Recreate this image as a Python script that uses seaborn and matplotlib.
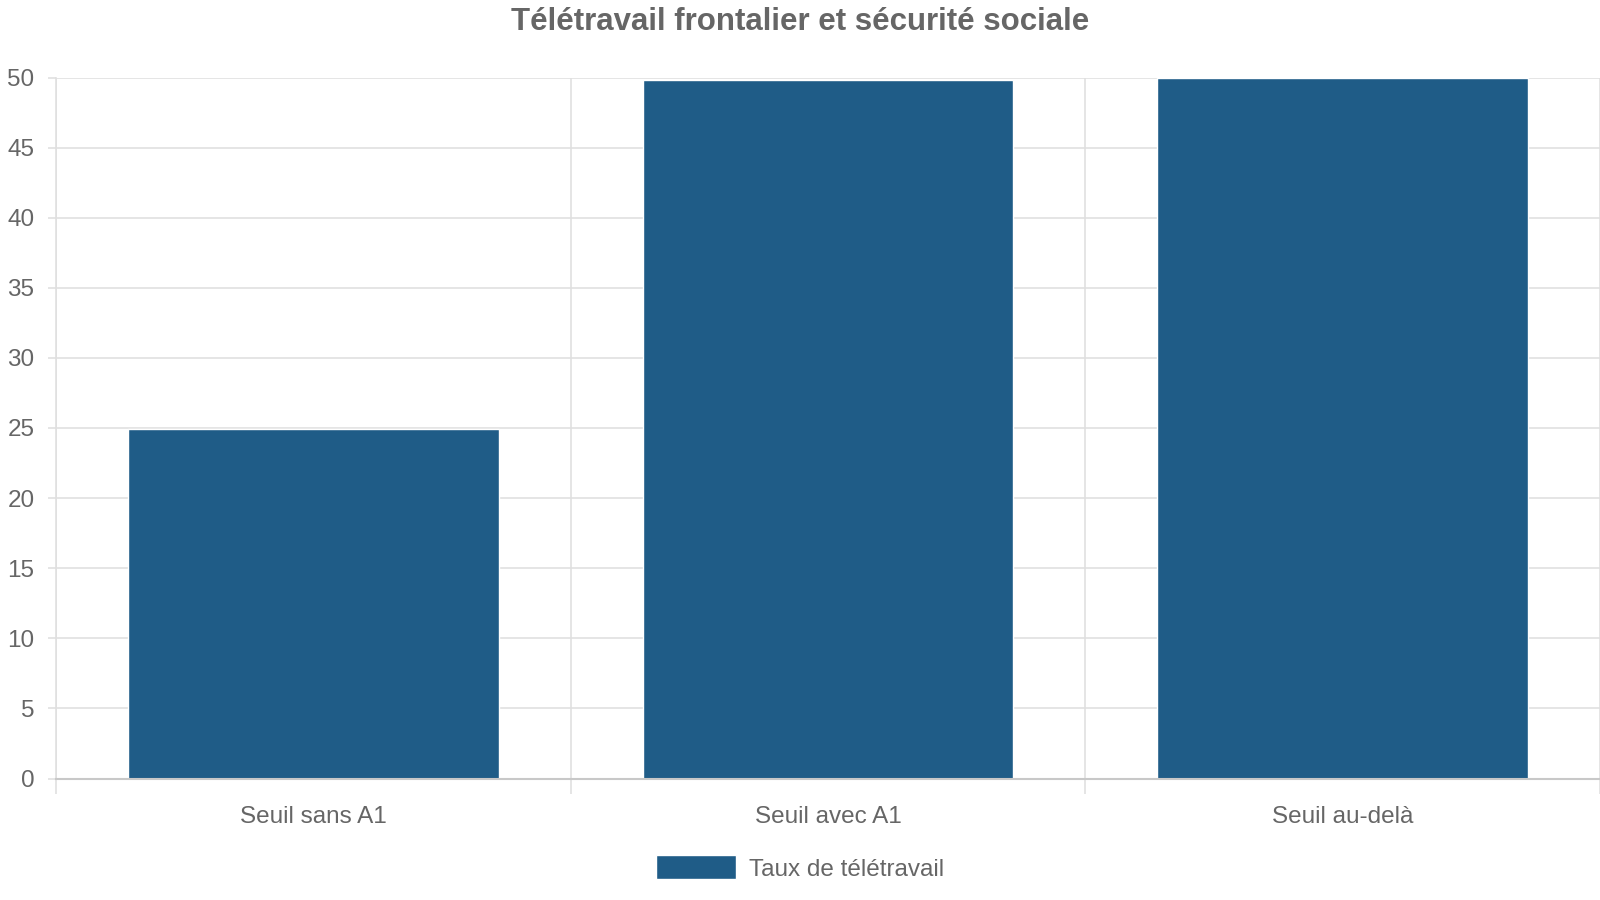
import matplotlib
matplotlib.use("Agg")
import matplotlib.pyplot as plt
import pandas as pd
import seaborn as sns

# data
categories = ["Seuil sans A1", "Seuil avec A1", "Seuil au-delà"]
values = [24.9, 49.8, 50.0]
series_name = "Taux de télétravail"
y_ticks = [0, 5, 10, 15, 20, 25, 30, 35, 40, 45, 50]

df = pd.DataFrame({"seuil": categories, "taux": values})

sns.set_theme(style="white")
plt.rcParams["font.family"] = ["Liberation Sans", "DejaVu Sans"]

text_col = "#666666"
grid_col = "#e0e0e0"
bar_col = "#1f5c87"

fig = plt.figure(figsize=(16, 9), dpi=100)
W, H = 1600, 900
left, right, top, bottom = 56, 1600, 77.5, 778.5
ax = fig.add_axes([left / W, 1 - bottom / H, (right - left) / W, (bottom - top) / H])

sns.barplot(data=df, x="seuil", y="taux", color=bar_col, saturation=1,
            width=0.72, label=series_name, ax=ax)

ax.set_xlim(-0.5, len(categories) - 0.5)
ax.set_ylim(0, 50)
ax.set_yticks(y_ticks)
ax.set_xlabel("")
ax.set_ylabel("")

# category boundaries as vertical grid lines
ax.set_xticks([i - 0.5 for i in range(len(categories) + 1)], minor=True)
ax.grid(True, which="minor", axis="x", color=grid_col, linewidth=1.2)
ax.grid(True, which="major", axis="y", color=grid_col, linewidth=1.2)
ax.set_axisbelow(True)

ax.tick_params(bottom=True, left=True, which="both")
ax.tick_params(axis="x", which="major", length=0, pad=19.5, labelsize=17.5, labelcolor=text_col)
ax.tick_params(axis="x", which="minor", length=11, width=1.2, color=grid_col)
ax.tick_params(axis="y", length=6, width=1.2, color=grid_col, pad=9.5, labelsize=17.5, labelcolor=text_col)

for s in ["top", "right"]:
    ax.spines[s].set_visible(False)
ax.spines["left"].set_color(grid_col)
ax.spines["left"].set_linewidth(1.2)
ax.spines["bottom"].set_color("#c8c8c8")
ax.spines["bottom"].set_linewidth(1.5)

fig.suptitle("Télétravail frontalier et sécurité sociale", x=0.5, y=1 - 22 / H,
             va="center", fontsize=22.5, fontweight="bold", color=text_col)

handles, labels = ax.get_legend_handles_labels()
if ax.legend_:
    ax.legend_.remove()
fig.legend(handles[:1], labels[:1], loc="center", bbox_to_anchor=(0.5, 1 - 868 / H),
           frameon=False, fontsize=17.5, labelcolor=text_col,
           handlelength=3.3, handleheight=1.15, handletextpad=0.5)

fig.savefig("out.png", dpi=100)
